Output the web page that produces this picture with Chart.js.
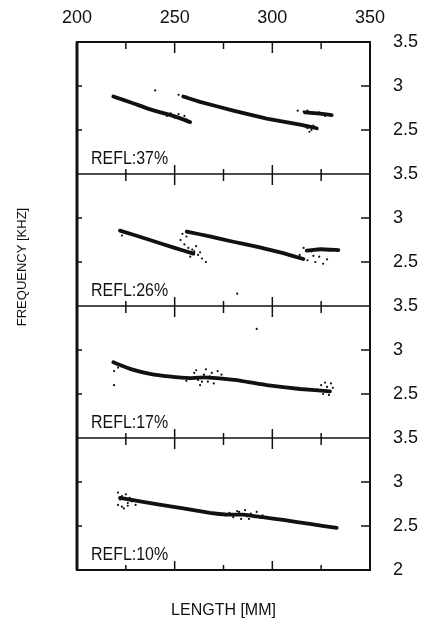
<!DOCTYPE html>
<html>
<head>
<meta charset="utf-8">
<script src="https://cdn.jsdelivr.net/npm/chart.js@4"></script>
<style>
  html, body { margin: 0; padding: 0; background: #fff; }
</style>
</head>
<body>
<canvas id="chart" width="424" height="621"></canvas>
<script>
// length in mm, frequency in kHz
const panelLabels = ['REFL:37%', 'REFL:26%', 'REFL:17%', 'REFL:10%'];
const panelIds = ['y1', 'y2', 'y3', 'y4'];
const xTitle = 'LENGTH [MM]';
const yTitle = 'FREQUENCY [KHZ]';

const refl37_a = [[218.6, 2.88], [228, 2.81], [237.4, 2.735], [249.3, 2.66], [257.9, 2.59]];
const refl37_b = [[254.4, 2.88], [263, 2.82], [280, 2.72], [297.1, 2.63], [314.2, 2.56], [322.7, 2.52]];
const refl37_c = [[316.7, 2.70], [323, 2.69], [330.4, 2.67]];
const refl37_dots = [[248, 2.69], [252, 2.68], [255, 2.66], [250, 2.64], [256, 2.62], [246, 2.66],
    [252, 2.90], [256, 2.88], [258, 2.86], [318, 2.52], [320, 2.50], [323, 2.51], [317, 2.54],
    [321, 2.55], [316, 2.71], [318, 2.72], [321, 2.69], [324, 2.70], [327, 2.66], [329, 2.68],
    [253, 2.63], [257, 2.60], [313, 2.72], [319, 2.48], [240, 2.95]];

const refl26_a = [[222, 2.857], [237.4, 2.75], [250, 2.66], [259.6, 2.595]];
const refl26_b = [[256.2, 2.846], [268, 2.79], [280, 2.73], [293, 2.67], [305.6, 2.60], [315.9, 2.534]];
const refl26_c = [[317.6, 2.63], [325, 2.645], [333.8, 2.635]];
const refl26_dots = [[255, 2.70], [257, 2.66], [260, 2.62], [262, 2.58], [258, 2.56], [264, 2.54],
    [266, 2.50], [253, 2.75], [256, 2.79], [259, 2.64], [314, 2.58], [318, 2.52], [322, 2.50],
    [324, 2.56], [326, 2.48], [320, 2.62], [316, 2.66], [282, 2.14], [261, 2.68], [263, 2.61],
    [254, 2.82], [321, 2.57], [328, 2.53], [223, 2.80]];

const refl17_a = [[218.6, 2.86], [228, 2.78], [237.4, 2.73], [247, 2.70], [257.9, 2.68], [265, 2.69],
    [271.5, 2.68], [284, 2.65], [297.1, 2.60], [314.2, 2.557], [329.5, 2.53]];
const refl17_dots = [[219, 2.76], [219, 2.60], [221, 2.80], [260, 2.74], [262, 2.66], [264, 2.64],
    [266, 2.78], [268, 2.70], [270, 2.62], [263, 2.60], [272, 2.76], [258, 2.68], [265, 2.72],
    [325, 2.60], [328, 2.58], [330, 2.62], [326, 2.50], [329, 2.49], [323, 2.55], [292, 3.24],
    [261, 2.77], [267, 2.64], [269, 2.74], [274, 2.72], [256, 2.65], [331, 2.57], [327, 2.63]];

const refl10_a = [[222, 2.82], [232.3, 2.78], [243, 2.74], [254.4, 2.70], [268.1, 2.65], [277, 2.63],
    [285.2, 2.63], [295, 2.60], [305.6, 2.57], [320, 2.52], [333, 2.48]];
const refl10_dots = [[221, 2.88], [223, 2.84], [225, 2.86], [221, 2.74], [223, 2.72], [226, 2.76],
    [228, 2.78], [230, 2.74], [222, 2.80], [227, 2.82], [276, 2.62], [280, 2.60], [283, 2.66],
    [286, 2.68], [289, 2.64], [292, 2.66], [284, 2.58], [288, 2.58], [295, 2.62], [224, 2.70],
    [229, 2.80], [226, 2.73], [282, 2.67], [287, 2.61], [278, 2.65], [291, 2.60]];

const traces = [
    [refl37_a, refl37_b, refl37_c],
    [refl26_a, refl26_b, refl26_c],
    [refl17_a],
    [refl10_a]
];
const dots = [refl37_dots, refl26_dots, refl17_dots, refl10_dots];

const ink = '#111';
const toPts = arr => arr.map(p => ({x: p[0], y: p[1]}));

const datasets = [];
panelIds.forEach((id, i) => {
    traces[i].forEach(seg => datasets.push({
        data: toPts(seg), yAxisID: id, showLine: true, borderColor: ink,
        borderWidth: 3.8, pointRadius: 0, tension: 0.1, borderCapStyle: 'round'
    }));
    datasets.push({
        data: toPts(dots[i]), yAxisID: id, showLine: false,
        pointRadius: 1.1, pointBackgroundColor: ink, pointBorderWidth: 0
    });
});

function yAxis(id, i) {
    return {
        type: 'linear', position: 'right', stack: 'freq', stackWeight: 1,
        min: 2, max: 3.5,
        grid: {display: false, drawTicks: false}, border: {display: false},
        ticks: {
            stepSize: 0.25, padding: 23, color: ink,
            font: {family: 'Liberation Sans', size: 18},
            callback: v => {
                if ((v * 2) % 1 !== 0) return '';
                if (v === 2 && i < 3) return '';
                return String(v);
            }
        },
        afterFit: s => { s.width = 54; }
    };
}

const scales = {
    x: {
        type: 'linear', position: 'top', min: 200, max: 350,
        grid: {display: false, drawTicks: false}, border: {display: false},
        ticks: {
            stepSize: 25, padding: 13, color: ink, maxRotation: 0,
            font: {family: 'Liberation Sans', size: 18},
            callback: v => v % 50 === 0 ? String(v) : ''
        },
        afterFit: s => { s.height = 42; }
    },
    xb: {
        type: 'linear', position: 'bottom', min: 200, max: 350,
        grid: {display: false, drawTicks: false}, border: {display: false},
        ticks: {display: false},
        title: {display: true, text: xTitle, color: ink, padding: {top: 4, bottom: 1},
            font: {family: 'Liberation Sans', size: 16}},
        afterFit: s => { s.height = 51; }
    }
};
panelIds.forEach((id, i) => { scales[id] = yAxis(id, i); });

function line(ctx, x0, y0, x1, y1) {
    ctx.beginPath();
    ctx.moveTo(x0, y0);
    ctx.lineTo(x1, y1);
    ctx.stroke();
}

const frameTicks = {
    id: 'frameTicks',
    afterDraw(chart) {
        const ctx = chart.ctx;
        const area = chart.chartArea;
        const xs = chart.scales.x;
        const panels = panelIds.map(id => chart.scales[id]);
        ctx.save();
        ctx.strokeStyle = ink;

        ctx.lineWidth = 2;
        ctx.strokeRect(area.left, area.top, area.right - area.left, area.bottom - area.top);
        ctx.lineWidth = 3;
        line(ctx, area.left, area.top, area.left, area.bottom);
        ctx.lineWidth = 1.5;
        panels.slice(0, -1).forEach(s => line(ctx, area.left, s.bottom, area.right, s.bottom));

        // inward y ticks on both sides
        panels.forEach(s => s.ticks.forEach(t => {
            if (t.value <= s.min || t.value >= s.max) return;
            const y = s.getPixelForValue(t.value);
            line(ctx, area.left, y, area.left + 5, y);
            line(ctx, area.right - 9, y, area.right, y);
        }));

        // x ticks crossing every panel border
        const edges = [area.top].concat(panels.slice(0, -1).map(s => s.bottom), [area.bottom]);
        xs.ticks.forEach(t => {
            if (t.value <= xs.min || t.value >= xs.max) return;
            const x = xs.getPixelForValue(t.value);
            const big = t.value % 50 === 0;
            const up = big ? 9 : 5, down = big ? 11 : 7;
            edges.forEach((y, k) => {
                const y0 = k === 0 ? y : y - up;
                const y1 = k === edges.length - 1 ? y : y + down;
                line(ctx, x, y0, x, y1);
            });
        });

        // panel captions, squeezed like the plotter lettering
        ctx.fillStyle = ink;
        ctx.textAlign = 'left';
        ctx.textBaseline = 'alphabetic';
        ctx.font = '19px "Liberation Sans"';
        panels.forEach((s, i) => {
            ctx.save();
            ctx.translate(area.left + 14, s.bottom - 10);
            ctx.scale(0.84, 1);
            ctx.fillText(panelLabels[i], 0, 0);
            ctx.restore();
        });

        ctx.translate(22, 267);
        ctx.rotate(-Math.PI / 2);
        ctx.textAlign = 'center';
        ctx.textBaseline = 'middle';
        ctx.font = '13px "Liberation Sans"';
        ctx.fillText(yTitle, 0, 0);
        ctx.restore();
    }
};

new Chart(document.getElementById('chart').getContext('2d'), {
    type: 'scatter',
    data: {datasets: datasets},
    options: {
        responsive: false,
        animation: false,
        layout: {padding: {left: 77, top: 0, right: 0, bottom: 0}},
        plugins: {legend: {display: false}, tooltip: {enabled: false}},
        scales: scales
    },
    plugins: [frameTicks]
});
</script>
</body>
</html>
